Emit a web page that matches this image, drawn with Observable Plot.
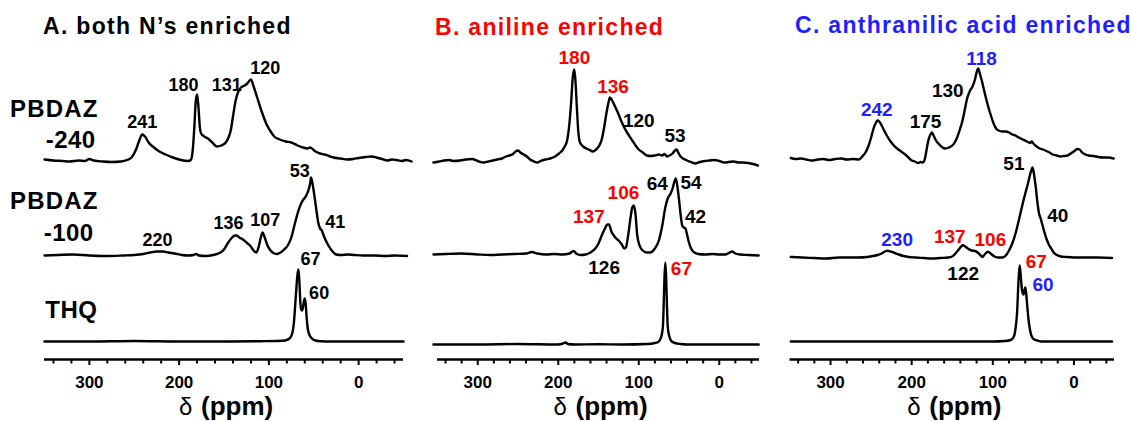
<!DOCTYPE html>
<html>
<head>
<meta charset="utf-8">
<script src="https://cdn.jsdelivr.net/npm/d3@7"></script>
<script src="https://cdn.jsdelivr.net/npm/@observablehq/plot@0.6"></script>
<style>
  body { margin: 0; background: #fff; }
  #fig { position: relative; width: 1131px; height: 421px; overflow: hidden;
         font-family: "Liberation Sans", Arial, Helvetica, sans-serif; }
  #fig svg { position: absolute; top: 0; }
  .lbl { position: absolute; font-weight: bold; white-space: nowrap; line-height: 1; }
</style>
</head>
<body>
<div id="fig"></div>
<script>
// ---- Axis ticks (chemical shift, ppm) ----
const majorTicks = [300, 200, 100, 0];
const minorTicks = [340, 320, 280, 260, 240, 220, 180, 160, 140, 120, 80, 60, 40, 20, -20, -40];

// ---- Spectra: [chemical shift (ppm), intensity] ----
// A. both N's enriched
const bothPBDAZ240 = [
  [350,2],[340,1],[330,0.5],[322,0],[312,1],[305,0.5],[300,2.5],[295,1],[285,0],[275,-0.5],[265,0],
  [258,1.5],[253,4],[248,12],[244,22],[241,27],[238,25],[234,19],[228,14],[222,10],[215,7],[207,4],
  [198,1.5],[190,0.5],[187,1.5],[185,10],[183,35],[181.5,60],[180,67],[178.5,55],[177,35],[175.5,28],
  [172,25],[168,23],[163,19],[158,15],[153,16],[148,19],[145,24],[142.5,31],[140,45],[137,61],[134,70],
  [131,74],[127,76],[124,78],[120,82],[117,75],[113,64],[108,50],[103,38],[98,30],[94,25],[88,22],
  [81,20],[75,19],[68,16],[62,14],[57,13],[54,14],[52,13],[48,10],[43,8],[38,7],[33,5.5],[28,4],[20,3],
  [13,2],[6,2.5],[0,3.5],[-8,4.5],[-14,5],[-20,4],[-26,2.5],[-32,1],[-37,2],[-42,1.5],[-48,0.5],[-53,1.5],[-59,0]
];
const bothPBDAZ100 = [
  [350,0],[335,0.5],[318,1],[300,0],[280,-0.5],[262,0],[250,0.5],[240,1.5],[232,3],[225,4],[218,4],
  [212,3],[205,2],[197,0.5],[190,0],[184,0.5],[181,1.5],[178,0],[170,-0.5],[162,0.5],[155,2.5],[150,6],
  [146,12],[142,17],[138,20],[136,20],[133,18],[129,16],[125,13],[121,10],[117,5],[114,3],[111,10],
  [109,18],[107,23],[105,19],[102,11],[99,6],[95,2.5],[91,1.5],[87,3],[83,6],[79,10],[75,18],[71,32],
  [67,45],[63,54],[59,59],[56,65],[54,72],[53,78],[51,70],[49,58],[47,45],[45,33],[43,27],[41,25],
  [39,20],[36,14],[33,9],[29,4],[25,1],[20,0.5],[12,1],[5,0.5],[-5,0],[-17,0],[-30,-0.5],[-40,0],[-54,-0.5]
];
const bothTHQ = [
  [350,0],[300,0],[250,0.5],[200,0],[150,0],[110,0.3],[90,0.5],[82,1],[77,3],[74,8],[72,20],[70,45],
  [68,68],[67,72],[66,60],[65,40],[64,32],[63,31],[62,34],[61,40],[60,43],[59,38],[58,25],[57,15],
  [55,7],[52,3],[48,1],[42,0.3],[30,0],[0,0],[-50,0]
];

// B. aniline enriched
const anilinePBDAZ240 = [
  [355,0],[348,1],[342,2],[336,2.5],[330,1.5],[322,2],[315,3],[307,3.5],[300,1.5],[293,0],[287,1],
  [281,2],[276,3],[270,4],[265,6],[261,7],[257,8],[253,11],[250,12],[247,10],[243,8],[239,6],[235,3],
  [230,1],[226,0],[222,1.5],[216,3],[210,4],[204,6],[199,9],[195,12],[192,16],[189,22],[186,40],
  [184,60],[182,85],[180,93],[178.5,80],[177,57],[175,30],[173,20],[169,16],[165,14],[161,12.5],
  [157,11],[153,13],[149,17],[146,23],[143,35],[140,50],[137,62],[136,65],[133,62],[130,57],[126,50],
  [122,42],[118,35],[113,28],[108,22],[104,17],[100,13],[95,10],[90,7],[85,6.5],[80,7],[75,8],[71,7],
  [68,8.5],[65,6],[62,7],[58,9],[55,12],[53,13],[51,10],[48,6],[44,3.5],[40,2],[35,0.5],[30,-1],
  [24,0.5],[18,1.5],[12,2],[6,2.5],[0,1.5],[-6,0],[-12,0.5],[-18,1],[-24,0],[-30,0],[-36,-0.5],[-42,-1.5],[-48,-3]
];
const anilinePBDAZ100 = [
  [355,0],[340,0.5],[320,1],[300,0],[285,-0.5],[270,0],[255,0.5],[240,1],[233,2.5],[226,1],[215,0],
  [205,0.5],[195,0],[186,1],[181,3.5],[177,0.5],[172,-0.5],[166,0],[160,2],[154,6],[150,11],[146,19],
  [142,26],[139,30],[137,30],[134,23],[131,19],[128,16],[125,14],[121,10],[118,6],[116,7],[113,20],
  [110,38],[108,47],[106,49],[104,40],[102,20],[99,9],[95,4],[90,2],[86,2],[80,6],[75,14],[71,28],
  [67,47],[64,56],[61,60],[58,66],[56,72],[54,76],[52,68],[50,55],[48,40],[46,29],[44,27],[42,26],
  [40,20],[38,13],[35,6],[31,2],[26,0.5],[18,0],[8,0.5],[0,0],[-8,0],[-13,2],[-16,3],[-20,1],[-26,0],
  [-36,-0.5],[-49,-1]
];
const anilineTHQ = [
  [355,0],[300,0],[250,0.5],[200,0],[194,1],[191,2],[188,0.5],[180,0],[150,0.3],[120,0],[90,0.5],
  [80,1.5],[75,3],[72,8],[70,18],[69,40],[68,68],[67,82],[66,68],[65,40],[64,18],[62,8],[59,3],
  [55,1.5],[48,0.5],[40,0],[0,0],[-49,0]
];

// C. anthranilic acid enriched
const anthranilicPBDAZ240 = [
  [349,1.5],[343,0.5],[336,1],[330,0],[323,-1],[316,0],[309,0.5],[302,-0.5],[294,0.5],[287,1],[280,0],
  [272,0.5],[265,0],[261,3],[257,7],[254,12],[250,22],[247,31],[244,37],[242,39],[240,38],[237,34],
  [234,29],[230,23],[226,18],[222,14],[218,11],[213,8],[208,5],[204,2],[200,-1],[196,-2],[192,-3.5],
  [189,-2.5],[186,-3],[184,0],[182,8],[180,17],[178,23],[176,26],[175,27],[173,24],[170,19],[166,15],
  [162,12],[158,11],[154,12],[150,14],[147,17],[144,22],[141,29],[138,37],[135,48],[132,60],[130,65],
  [128,69],[125,73],[122,80],[120,87],[118,91],[116,86],[113,77],[111,70],[108,60],[105,51],[102,43],
  [99,36],[96,31],[93,29],[88,28],[84,28],[80,27],[76,25],[72,24],[68,22],[63,20],[58,18],[54,16.5],
  [52,18],[50,16],[46,13],[42,11],[38,10],[34,8.5],[30,7],[26,5],[21,4],[17,3],[12,3.5],[8,4],[4,6],
  [0,8],[-4,10.5],[-7,10],[-10,7],[-14,5],[-18,4],[-24,3.5],[-30,2.5],[-36,2],[-42,2],[-49,1]
];
const anthranilicPBDAZ100 = [
  [349,0.5],[335,0],[320,-0.5],[305,-1],[290,0],[275,0],[265,0],[255,0.5],[248,1.5],[242,2.5],[237,4],
  [233,6],[230,6.7],[226,6],[221,4.5],[216,3],[210,1.5],[204,0.5],[195,0],[185,-0.5],[175,-1],[165,-0.5],
  [155,0],[150,1],[146,4],[142,8],[139,11],[137,12.3],[134,11],[130,8.5],[126,7],[122,6.5],[118,4.5],
  [115,2],[113,0.5],[110,3],[106,5.7],[102,3.5],[98,1],[94,0],[88,0],[83,3],[80,7],[76,14],[72,24],
  [68,37],[64,51],[60,64],[57,73],[54,83],[51,90],[49,82],[47,70],[45,55],[43,44],[41,39],[39,33],
  [37,27],[34,19],[31,13],[28,9],[25,5],[21,2.5],[16,1],[10,0.5],[0,0],[-15,0],[-30,0],[-47,-0.5]
];
const anthranilicTHQ = [
  [349,0],[300,0],[250,0],[200,0],[150,0],[100,0],[85,0.5],[78,1.5],[74,5],[72,13],[70,30],[68.5,58],
  [67,76],[66,70],[64.5,55],[63,48],[62,47],[61,51],[60,54],[59,49],[57.5,35],[56,22],[54,11],[52,5],
  [49,2],[45,1],[40,0],[20,0],[0,0],[-47,0]
];

// ---- Peak annotations: text and which label it carries (k = both / r = aniline / b = anthranilic) ----
const peakTextA = ["241","180","131","120","53","220","136","107","41","67","60"];
const peakTagA  = ["k","k","k","k","k","k","k","k","k","k","k"];
const peakTextB = ["180","136","120","53","106","64","54","137","42","126","67"];
const peakTagB  = ["r","r","k","k","r","k","k","r","k","k","r"];
const peakTextC = ["242","175","130","118","51","40","230","137","106","122","67","60"];
const peakTagC  = ["b","k","k","b","k","k","b","r","r","k","r","b"];

// ---- Layout ----
const tagColor = {k: "#000000", r: "#ff0000", b: "#1e1eff"};
const FONT = '"Liberation Sans", Arial, Helvetica, sans-serif';

// label anchor positions: [ppm, vertical position]
const placeA = [[241,237],[195,274],[147,274],[104,291],[65.5,188],[224,119],[145,136],[104,139],[26,137],[53.5,100],[44,66]];
const placeB = [[180,302],[132,273],[100,239],[55,224],[119,167],[77,176],[35,177],[162,143],[29.5,143],[143,92],[47,91]];
const placeC = [[243,250],[183,238],[155.5,269],[114,301],[74,196],[20,144],[218,120],[153,123],[103,120],[136.5,86],[46.5,98],[38,75]];

const panels = [
  {left: 0,   width: 415, marginLeft: 44,   marginRight: 12,
   traces: [bothPBDAZ240, bothPBDAZ100, bothTHQ], offsets: [198, 104, 18],
   text: peakTextA, tag: peakTagA, place: placeA, fs: 18},
  {left: 415, width: 355, marginLeft: 22,   marginRight: 11,
   traces: [anilinePBDAZ240, anilinePBDAZ100, anilineTHQ], offsets: [197, 105, 15],
   text: peakTextB, tag: peakTagB, place: placeB, fs: 19},
  {left: 770, width: 361, marginLeft: 19.5, marginRight: 17,
   traces: [anthranilicPBDAZ240, anthranilicPBDAZ100, anthranilicTHQ], offsets: [200, 102, 18],
   text: peakTextC, tag: peakTagC, place: placeC, fs: 19}
];

const fig = document.getElementById("fig");

for (const p of panels) {
  const lines = p.traces.map((t, r) => Plot.line(t, {
    x: d => d[0], y: d => d[1] + p.offsets[r],
    curve: "monotone-x", stroke: "#000", strokeWidth: 2.4, strokeLinejoin: "round"
  }));
  const idx = d3.range(p.text.length);
  const svg = Plot.plot({
    width: p.width, height: 421,
    marginLeft: p.marginLeft, marginRight: p.marginRight, marginTop: 0, marginBottom: 62,
    x: {domain: [350, -50], label: null},
    y: {domain: [0, 359], axis: null},
    color: {type: "identity"},
    style: {fontFamily: FONT, fontWeight: "bold", overflow: "visible", background: "transparent", color: "#000"},
    marks: [
      ...lines,
      Plot.ruleY([0], {stroke: "#000", strokeWidth: 2.6}),
      Plot.axisX(minorTicks, {tickSize: 4.5, strokeWidth: 2, tickFormat: () => "", label: null}),
      Plot.axisX(majorTicks, {tickSize: 6, strokeWidth: 2, tickPadding: 10, fontSize: 17,
                              fontWeight: "bold", tickFormat: d => String(d), label: null}),
      Plot.text(idx, {
        x: i => p.place[i][0], y: i => p.place[i][1], text: i => p.text[i],
        fill: i => tagColor[p.tag[i]], fontSize: p.fs, fontWeight: "bold"
      }),
      Plot.text(["δ"], {text: d => d, frameAnchor: "bottom", dx: -45, dy: 55,
                        textAnchor: "start", fontSize: 24, fontWeight: "normal"}),
      Plot.text(["(ppm)"], {text: d => d, frameAnchor: "bottom", dx: -23, dy: 55,
                            textAnchor: "start", fontSize: 26, fontWeight: "bold"})
    ]
  });
  // tick numbers in bold, like the rest of the figure text
  d3.select(svg).selectAll("g[aria-label='x-axis tick label'] text, g[aria-label='x-axis tick label']")
    .attr("font-weight", "bold");
  svg.style.left = p.left + "px";
  fig.appendChild(svg);
}

// ---- Panel titles and row labels ----
const rowLabels = [
  {text: "PBDAZ", left: 10,  baseline: 117, size: 24, spacing: 1.2},
  {text: "-240",  right: 95, baseline: 148, size: 24, spacing: 0.4},
  {text: "PBDAZ", left: 10,  baseline: 209, size: 24, spacing: 1.2},
  {text: "-100",  right: 93, baseline: 241, size: 24, spacing: 0.4},
  {text: "THQ",   right: 97, baseline: 318, size: 24, spacing: 0.6}
];
const titles = [
  {text: "A. both N’s enriched",         left: 43,  baseline: 34.5, size: 23, spacing: 1.3, color: "#000000"},
  {text: "B. aniline enriched",          left: 435, baseline: 35,   size: 23, spacing: 1.3, color: tagColor.r},
  {text: "C. anthranilic acid enriched", left: 795, baseline: 33.5, size: 23, spacing: 1.3, color: tagColor.b}
];

for (const t of [...rowLabels, ...titles]) {
  const el = document.createElement("div");
  el.className = "lbl";
  el.textContent = t.text;
  el.style.fontSize = t.size + "px";
  el.style.letterSpacing = t.spacing + "px";
  el.style.color = t.color || "#000";
  el.style.top = (t.baseline - 0.8465 * t.size) + "px";
  if (t.left != null) el.style.left = t.left + "px";
  else el.style.right = (1131 - t.right - t.spacing) + "px";
  fig.appendChild(el);
}
</script>
</body>
</html>
